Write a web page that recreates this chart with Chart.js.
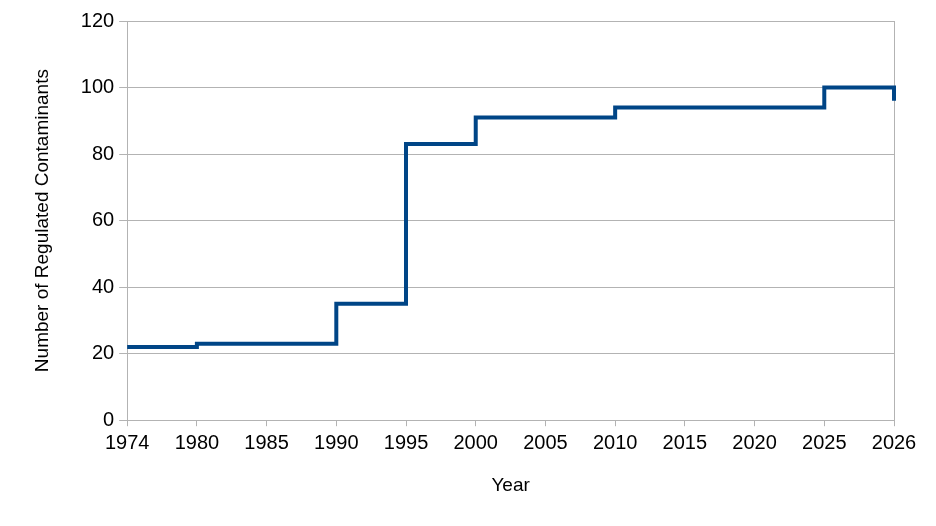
<!DOCTYPE html>
<html lang="en">
<head>
    <meta charset="UTF-8">
    <title>Regulated Contaminants</title>
    <script src="https://cdn.jsdelivr.net/npm/chart.js"></script>
    <style>
        body {
            margin: 0;
            background-color: #fff;
        }
        #wrap {
            width: 936px;
            height: 526px;
        }
    </style>
</head>
<body>
    <div id="wrap">
        <canvas id="chart" width="936" height="526"></canvas>
    </div>

    <script>
        // Data
        const years = ['1974', '1980', '1985', '1990', '1995', '2000', '2005', '2010', '2015', '2020', '2025', '2026'];
        const contaminants = [22, 23, 23, 35, 83, 91, 91, 94, 94, 94, 100, 96];
        const yTicks = [0, 20, 40, 60, 80, 100, 120];

        const gridGrey = '#b3b3b3';
        const textColor = '#000';
        const font = 'Liberation Sans, Arial, sans-serif';

        Chart.defaults.font.family = font;
        Chart.defaults.color = textColor;

        new Chart(document.getElementById('chart'), {
            type: 'line',
            data: {
                labels: years,
                datasets: [{
                    label: 'Number of Regulated Contaminants',
                    data: contaminants,
                    borderColor: '#004586',
                    borderWidth: 4,
                    stepped: 'before',
                    pointRadius: 0,
                    fill: false
                }]
            },
            options: {
                responsive: false,
                animation: false,
                layout: {
                    padding: { left: 27, right: 42, top: 21, bottom: 25 }
                },
                plugins: {
                    legend: { display: false },
                    tooltip: { enabled: false }
                },
                scales: {
                    x: {
                        offset: false,
                        border: { color: gridGrey, width: 1 },
                        grid: {
                            // only the right edge shows a vertical line
                            color: ctx => ctx.index === years.length - 1 ? gridGrey : 'rgba(0,0,0,0)',
                            tickColor: gridGrey,
                            tickLength: 6
                        },
                        ticks: {
                            font: { size: 20 },
                            maxRotation: 0,
                            autoSkip: false,
                            padding: 5
                        },
                        title: {
                            display: true,
                            text: 'Year',
                            font: { size: 19 },
                            padding: { top: 14 }
                        }
                    },
                    y: {
                        min: 0,
                        max: 120,
                        afterBuildTicks: axis => {
                            axis.ticks = yTicks.map(v => ({ value: v }));
                        },
                        border: { color: gridGrey, width: 1 },
                        grid: {
                            color: gridGrey,
                            tickColor: gridGrey,
                            tickLength: 8
                        },
                        ticks: {
                            font: { size: 20 },
                            padding: 5
                        },
                        title: {
                            display: true,
                            text: 'Number of Regulated Contaminants',
                            font: { size: 19 },
                            padding: { bottom: 22 }
                        }
                    }
                }
            }
        });
    </script>
</body>
</html>
